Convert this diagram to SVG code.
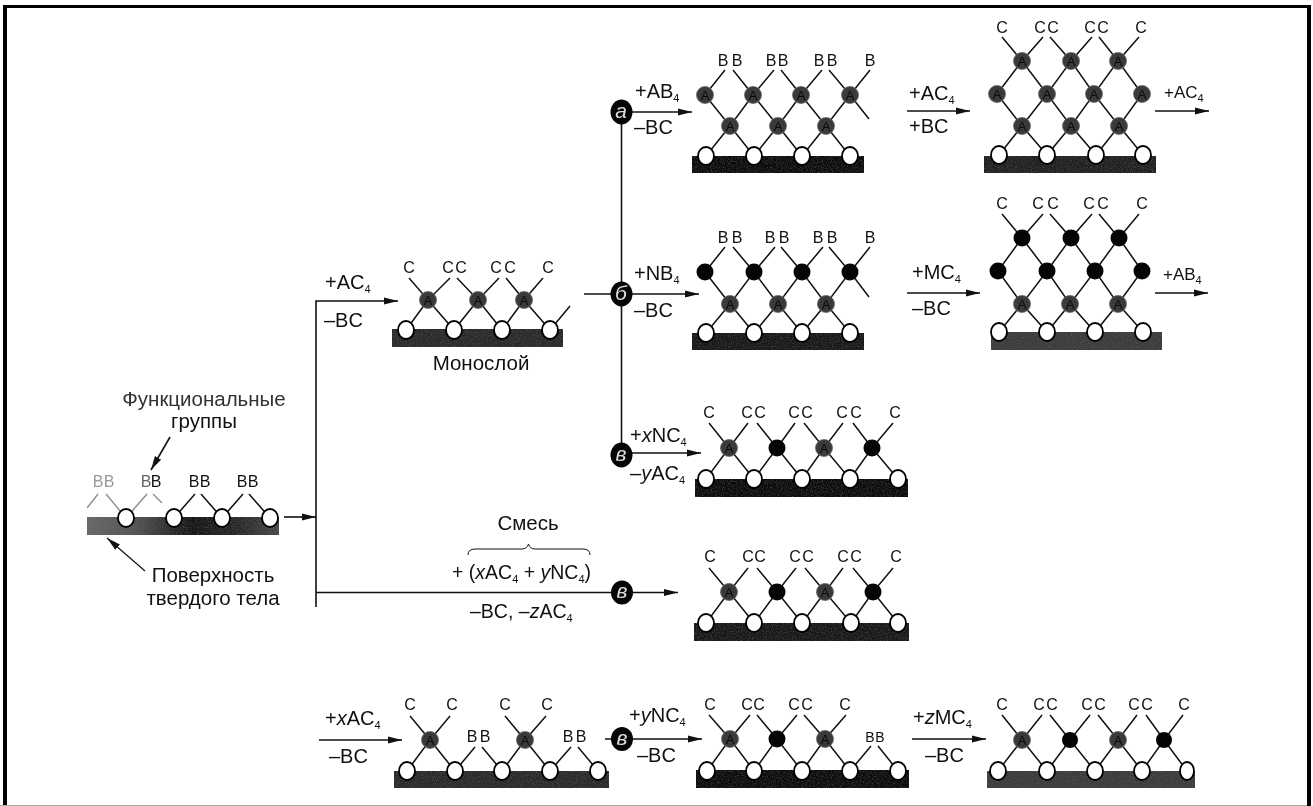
<svg xmlns="http://www.w3.org/2000/svg" width="1313" height="806" viewBox="0 0 1313 806">
<style>
text{font-family:"Liberation Sans",Arial,sans-serif;fill:#111}
.l{font-size:20px}
.r{font-size:20.500px}
.t{font-size:16px;text-anchor:middle}
.s{font-size:11px}
.a{font-size:13px;text-anchor:middle;fill:#0a0a0a}
.b{fill:none;stroke:#111;stroke-width:1.5}
.c{fill:none;stroke:#111;stroke-width:1.6}
.w{fill:#fff;stroke:#000;stroke-width:1.8}
.ga{fill:#3a3a3a;stroke:#666;stroke-width:.8}
.n{fill:#050505}
.k{fill:#050505}
.m{font-size:21px;font-style:italic;text-anchor:middle;fill:#ddd}
.g{filter:url(#grain)}
#drawing{filter:url(#soft)}
</style>
<defs>
<marker id="ah" markerUnits="userSpaceOnUse" markerWidth="16" markerHeight="10" refX="14" refY="4" orient="auto"><path d="M0 0.5L14 4L0 7.500Z" fill="#111"/></marker>
<linearGradient id="sg" x1="0" x2="1" y1="0" y2="0"><stop offset="0" stop-color="#6a6a6a"/><stop offset=".25" stop-color="#555"/><stop offset=".55" stop-color="#141414"/><stop offset=".8" stop-color="#2a2a2a"/><stop offset="1" stop-color="#4a4a4a"/></linearGradient>
<filter id="grain" x="0" y="0" width="100%" height="100%" color-interpolation-filters="sRGB"><feTurbulence type="fractalNoise" baseFrequency=".8" numOctaves="2" seed="3"/><feColorMatrix values="0 0 0 0 .4 0 0 0 0 .4 0 0 0 0 .4 0 0 0 1.500 -.68"/><feComposite in2="SourceAlpha" operator="in" result="n"/><feMerge><feMergeNode in="SourceGraphic"/><feMergeNode in="n"/></feMerge></filter>
<filter id="soft" x="0" y="0" width="100%" height="100%" color-interpolation-filters="sRGB"><feGaussianBlur stdDeviation=".35"/></filter>
</defs>
<rect width="1313" height="806" fill="#fff"/>
<g id="frame">
<rect x="3" y="5" width="4" height="801" fill="#000"/>
<rect x="3" y="5" width="1308" height="3" fill="#000"/>
<rect x="1307" y="5" width="4" height="801" fill="#000"/>
<rect x="0" y="805" width="1307" height="1" fill="#aaa"/>
</g>
<g id="drawing">
<g id="connectors">
<path class="c" d="M284 517H316" marker-end="url(#ah)"/>
<path class="c" d="M316 607V301H398" marker-end="url(#ah)"/>
<path class="c" d="M316 592.500H678" marker-end="url(#ah)"/>
<path class="c" d="M621.500 112V455"/>
<path class="c" d="M584 294H699" marker-end="url(#ah)"/>
<path class="c" d="M621.500 112H692" marker-end="url(#ah)"/>
<path class="c" d="M621.500 453H701" marker-end="url(#ah)"/>
<path class="c" d="M907 111H970" marker-end="url(#ah)"/>
<path class="c" d="M1155 111H1209" marker-end="url(#ah)"/>
<path class="c" d="M907 293H980" marker-end="url(#ah)"/>
<path class="c" d="M1155 293H1208" marker-end="url(#ah)"/>
<path class="c" d="M319 740H402" marker-end="url(#ah)"/>
<path class="c" d="M605 739H702" marker-end="url(#ah)"/>
<path class="c" d="M912 739H986" marker-end="url(#ah)"/>
<path class="c" d="M170 437L151 470" marker-end="url(#ah)"/>
<path class="c" d="M145 571L107 538" marker-end="url(#ah)" style="stroke-width:1.200"/>
<path class="b" d="M468 555Q468 549 475 549H522Q527 549 528.500 544Q530 549 535 549H583Q590 549 590 555" style="stroke-width:1"/>
</g>
<g id="branch-a"><ellipse class="k" cx="621.500" cy="112" rx="11" ry="12.500"/><text class="m" x="621" y="118">а</text></g>
<g id="branch-b"><ellipse class="k" cx="621.500" cy="294" rx="11" ry="12.500"/><text class="m" x="621" y="300">б</text></g>
<g id="branch-v1"><ellipse class="k" cx="621.500" cy="455" rx="11" ry="12.500"/><text class="m" x="621" y="461">в</text></g>
<g id="branch-v2"><ellipse class="k" cx="622" cy="592.500" rx="11" ry="12"/><text class="m" x="622" y="598">в</text></g>
<g id="branch-v3"><ellipse class="k" cx="622" cy="739" rx="11" ry="12"/><text class="m" x="622" y="745">в</text></g>

<g id="labels">
<text class="r" x="204" y="406" text-anchor="middle" style="fill:#333">Функциональные</text>
<text class="r" x="204" y="428" text-anchor="middle">группы</text>
<text class="r" x="213" y="582" text-anchor="middle">Поверхность</text>
<text class="r" x="213" y="605" text-anchor="middle">твердого тела</text>
<text class="r" x="481" y="370" text-anchor="middle">Монослой</text>
<text class="r" x="528" y="530" text-anchor="middle">Смесь</text>
<text class="l" x="325" y="289">+AC<tspan class="s" dy="4">4</tspan></text>
<text class="l" x="324" y="327">–BC</text>
<text class="l" x="635" y="98">+AB<tspan class="s" dy="4">4</tspan></text>
<text class="l" x="634" y="134">–BC</text>
<text class="l" x="634" y="280">+NB<tspan class="s" dy="4">4</tspan></text>
<text class="l" x="634" y="317">–BC</text>
<text class="l" x="630" y="442">+<tspan font-style="italic">x</tspan>NC<tspan class="s" dy="4">4</tspan></text>
<text class="l" x="630" y="480">–<tspan font-style="italic">y</tspan>AC<tspan class="s" dy="4">4</tspan></text>
<text class="l" x="909" y="100">+AC<tspan class="s" dy="4">4</tspan></text>
<text class="l" x="909" y="133">+BC</text>
<text class="l" x="1164" y="98" style="font-size:17px">+AC<tspan class="s" dy="4">4</tspan></text>
<text class="l" x="912" y="279">+MC<tspan class="s" dy="4">4</tspan></text>
<text class="l" x="912" y="315">–BC</text>
<text class="l" x="1163" y="280" style="font-size:17px">+AB<tspan class="s" dy="4">4</tspan></text>
<text class="l" x="452" y="579" style="font-size:19.500px">+ (<tspan font-style="italic">x</tspan>AC<tspan class="s" dy="4">4</tspan><tspan dy="-4"> + </tspan><tspan font-style="italic">y</tspan>NC<tspan class="s" dy="4">4</tspan><tspan dy="-4">)</tspan></text>
<text class="l" x="470" y="618" style="font-size:19.500px">–BC, –<tspan font-style="italic">z</tspan>AC<tspan class="s" dy="4">4</tspan></text>
<text class="l" x="325" y="725">+<tspan font-style="italic">x</tspan>AC<tspan class="s" dy="4">4</tspan></text>
<text class="l" x="329" y="763">–BC</text>
<text class="l" x="629" y="722">+<tspan font-style="italic">y</tspan>NC<tspan class="s" dy="4">4</tspan></text>
<text class="l" x="637" y="762">–BC</text>
<text class="l" x="913" y="724">+<tspan font-style="italic">z</tspan>MC<tspan class="s" dy="4">4</tspan></text>
<text class="l" x="925" y="762">–BC</text>
</g>

<g id="surface">
<rect class="g" x="87" y="517" width="192" height="18" fill="url(#sg)"/>
<path class="b" style="stroke-opacity:.45" d="M87 508L98 494M106 494L126 518L147 494M153 494L162 503"/>
<path class="b" d="M174 518L195 494M201 494L222 518L243 494M249 494L270 518"/>
<ellipse class="w" cx="126" cy="518" rx="8" ry="9"/><ellipse class="w" cx="174" cy="518" rx="8" ry="9"/><ellipse class="w" cx="222" cy="518" rx="8" ry="9"/><ellipse class="w" cx="270" cy="518" rx="8" ry="9"/>
<text class="t" x="98" y="487" style="fill:#999">B</text><text class="t" x="109" y="487" style="fill:#999">B</text><text class="t" x="146" y="487" style="fill:#666">B</text><text class="t" x="156" y="487">B</text><text class="t" x="194" y="487">B</text><text class="t" x="205" y="487">B</text><text class="t" x="242" y="487">B</text><text class="t" x="253" y="487">B</text>
</g>

<g id="monolayer">
<rect class="g" x="392" y="329" width="171" height="18" fill="#2a2a2a"/>
<path class="b" d="M409 278L428 300L450 278M457 278L478 300L499 278M506 278L524 300L543 278M406 330L428 300L454 330L478 300L502 330L524 300L550 330L570 306"/>
<ellipse class="w" cx="406" cy="330" rx="8" ry="9"/><ellipse class="w" cx="454" cy="330" rx="8" ry="9"/><ellipse class="w" cx="502" cy="330" rx="8" ry="9"/><ellipse class="w" cx="550" cy="330" rx="8" ry="9"/>
<circle class="ga" cx="428" cy="300" r="8.500"/><circle class="ga" cx="478" cy="300" r="8.500"/><circle class="ga" cx="524" cy="300" r="8.500"/>
<text class="a" x="428" y="304.500">A</text><text class="a" x="478" y="304.500">A</text><text class="a" x="524" y="304.500">A</text>
<text class="t" x="409" y="273">C</text><text class="t" x="448" y="273">C</text><text class="t" x="461" y="273">C</text><text class="t" x="496" y="273">C</text><text class="t" x="510" y="273">C</text><text class="t" x="548" y="273">C</text>
</g>

<g id="struct-a1">
<rect class="g" x="692" y="156" width="172" height="17" fill="#0c0c0c"/>
<path class="b" d="M705 95L725 70M733 70L753 95L774 70M781 70L801 95L822 70M829 70L850 95L870 70M705 95L730 126L753 95L778 126L801 95L826 126L850 95L869 119M706 156L730 126L754 156L778 126L802 156L826 126L850 156"/>
<ellipse class="w" cx="706" cy="156" rx="8" ry="9"/><ellipse class="w" cx="754" cy="156" rx="8" ry="9"/><ellipse class="w" cx="802" cy="156" rx="8" ry="9"/><ellipse class="w" cx="850" cy="156" rx="8" ry="9"/>
<circle class="ga" cx="730" cy="126" r="8.500"/><circle class="ga" cx="778" cy="126" r="8.500"/><circle class="ga" cx="826" cy="126" r="8.500"/>
<circle class="ga" cx="705" cy="95" r="8.500"/><circle class="ga" cx="753" cy="95" r="8.500"/><circle class="ga" cx="801" cy="95" r="8.500"/><circle class="ga" cx="850" cy="95" r="8.500"/>
<text class="a" x="730" y="130.500">A</text><text class="a" x="778" y="130.500">A</text><text class="a" x="826" y="130.500">A</text>
<text class="a" x="705" y="99.500">A</text><text class="a" x="753" y="99.500">A</text><text class="a" x="801" y="99.500">A</text><text class="a" x="850" y="99.500">A</text>
<text class="t" x="723" y="66">B</text><text class="t" x="737" y="66">B</text><text class="t" x="771" y="66">B</text><text class="t" x="783" y="66">B</text><text class="t" x="819" y="66">B</text><text class="t" x="832" y="66">B</text><text class="t" x="870" y="66">B</text>
</g>

<g id="struct-a2">
<rect class="g" x="984" y="156" width="172" height="17" fill="#202020"/>
<path class="b" d="M1002 37L1022 61L1043 37M1050 37L1071 61L1092 37M1099 37L1118 61L1139 37M997 94L1022 61L1047 94L1071 61L1094 94L1118 61L1142 94M997 94L1022 126L1047 94L1071 126L1094 94L1119 126L1142 94M999 155L1022 126L1047 155L1071 126L1096 155L1119 126L1143 155"/>
<ellipse class="w" cx="999" cy="155" rx="8" ry="9"/><ellipse class="w" cx="1047" cy="155" rx="8" ry="9"/><ellipse class="w" cx="1096" cy="155" rx="8" ry="9"/><ellipse class="w" cx="1143" cy="155" rx="8" ry="9"/>
<circle class="ga" cx="1022" cy="126" r="8.500"/><circle class="ga" cx="1071" cy="126" r="8.500"/><circle class="ga" cx="1119" cy="126" r="8.500"/>
<circle class="ga" cx="997" cy="94" r="8.500"/><circle class="ga" cx="1047" cy="94" r="8.500"/><circle class="ga" cx="1094" cy="94" r="8.500"/><circle class="ga" cx="1142" cy="94" r="8.500"/>
<circle class="ga" cx="1022" cy="61" r="8.500"/><circle class="ga" cx="1071" cy="61" r="8.500"/><circle class="ga" cx="1118" cy="61" r="8.500"/>
<text class="a" x="1022" y="130.500">A</text><text class="a" x="1071" y="130.500">A</text><text class="a" x="1119" y="130.500">A</text>
<text class="a" x="997" y="98.500">A</text><text class="a" x="1047" y="98.500">A</text><text class="a" x="1094" y="98.500">A</text><text class="a" x="1142" y="98.500">A</text>
<text class="a" x="1022" y="65.500">A</text><text class="a" x="1071" y="65.500">A</text><text class="a" x="1118" y="65.500">A</text>
<text class="t" x="1002" y="33">C</text><text class="t" x="1040" y="33">C</text><text class="t" x="1053" y="33">C</text><text class="t" x="1090" y="33">C</text><text class="t" x="1103" y="33">C</text><text class="t" x="1141" y="33">C</text>
</g>

<g id="struct-b1">
<rect class="g" x="692" y="333" width="172" height="17" fill="#181818"/>
<path class="b" d="M705 272L725 247M733 247L754 272L775 247M781 247L802 272L823 247M829 247L850 272L870 247M705 272L730 304L754 272L778 304L802 272L826 304L850 272L869 297M706 333L730 304L754 333L778 304L802 333L826 304L850 333"/>
<ellipse class="w" cx="706" cy="333" rx="8" ry="9"/><ellipse class="w" cx="754" cy="333" rx="8" ry="9"/><ellipse class="w" cx="802" cy="333" rx="8" ry="9"/><ellipse class="w" cx="850" cy="333" rx="8" ry="9"/>
<circle class="ga" cx="730" cy="304" r="8.500"/><circle class="ga" cx="778" cy="304" r="8.500"/><circle class="ga" cx="826" cy="304" r="8.500"/>
<circle class="n" cx="705" cy="272" r="8.500"/><circle class="n" cx="754" cy="272" r="8.500"/><circle class="n" cx="802" cy="272" r="8.500"/><circle class="n" cx="850" cy="272" r="8.500"/>
<text class="a" x="730" y="308.500">A</text><text class="a" x="778" y="308.500">A</text><text class="a" x="826" y="308.500">A</text>
<text class="t" x="723" y="243">B</text><text class="t" x="737" y="243">B</text><text class="t" x="770" y="243">B</text><text class="t" x="784" y="243">B</text><text class="t" x="818" y="243">B</text><text class="t" x="832" y="243">B</text><text class="t" x="870" y="243">B</text>
</g>

<g id="struct-b2">
<rect class="g" x="991" y="332" width="171" height="18" fill="#3c3c3c"/>
<path class="b" d="M1002 214L1022 238L1043 214M1050 214L1071 238L1092 214M1099 214L1119 238L1139 214M998 271L1022 238L1047 271L1071 238L1095 271L1119 238L1142 271M998 271L1022 304L1047 271L1070 304L1095 271L1118 304L1142 271M999 332L1022 304L1047 332L1070 304L1095 332L1118 304L1143 332"/>
<ellipse class="w" cx="999" cy="332" rx="8" ry="9"/><ellipse class="w" cx="1047" cy="332" rx="8" ry="9"/><ellipse class="w" cx="1095" cy="332" rx="8" ry="9"/><ellipse class="w" cx="1143" cy="332" rx="8" ry="9"/>
<circle class="ga" cx="1022" cy="304" r="8.500"/><circle class="ga" cx="1070" cy="304" r="8.500"/><circle class="ga" cx="1118" cy="304" r="8.500"/>
<circle class="n" cx="998" cy="271" r="8.500"/><circle class="n" cx="1047" cy="271" r="8.500"/><circle class="n" cx="1095" cy="271" r="8.500"/><circle class="n" cx="1142" cy="271" r="8.500"/>
<circle class="n" cx="1022" cy="238" r="8.500"/><circle class="n" cx="1071" cy="238" r="8.500"/><circle class="n" cx="1119" cy="238" r="8.500"/>
<text class="a" x="1022" y="308.500">A</text><text class="a" x="1070" y="308.500">A</text><text class="a" x="1118" y="308.500">A</text>
<text class="t" x="1002" y="209">C</text><text class="t" x="1038" y="209">C</text><text class="t" x="1053" y="209">C</text><text class="t" x="1089" y="209">C</text><text class="t" x="1103" y="209">C</text><text class="t" x="1142" y="209">C</text>
</g>

<g id="struct-c1">
<rect class="g" x="695" y="479" width="213" height="18" fill="#0c0c0c"/>
<path class="b" d="M709 423L729 448L748 423M757 423L777 448L795 423M804 423L824 448L843 423M853 423L872 448L893 423M706 479L729 448L754 479L777 448L802 479L824 448L850 479L872 448L898 479"/>
<ellipse class="w" cx="706" cy="479" rx="8" ry="9"/><ellipse class="w" cx="754" cy="479" rx="8" ry="9"/><ellipse class="w" cx="802" cy="479" rx="8" ry="9"/><ellipse class="w" cx="850" cy="479" rx="8" ry="9"/><ellipse class="w" cx="898" cy="479" rx="8" ry="9"/>
<circle class="ga" cx="729" cy="448" r="8.500"/><circle class="n" cx="777" cy="448" r="8.500"/><circle class="ga" cx="824" cy="448" r="8.500"/><circle class="n" cx="872" cy="448" r="8.500"/>
<text class="a" x="729" y="452.500">A</text><text class="a" x="824" y="452.500">A</text>
<text class="t" x="709" y="418">C</text><text class="t" x="747" y="418">C</text><text class="t" x="760" y="418">C</text><text class="t" x="794" y="418">C</text><text class="t" x="807" y="418">C</text><text class="t" x="842" y="418">C</text><text class="t" x="856" y="418">C</text><text class="t" x="895" y="418">C</text>
</g>

<g id="struct-c2">
<rect class="g" x="694" y="623" width="215" height="18" fill="#181818"/>
<path class="b" d="M709 568L729 592L748 568M757 568L777 592L796 568M805 568L825 592L843 568M853 568L873 592L893 568M706 623L729 592L754 623L777 592L802 623L825 592L851 623L873 592L898 623"/>
<ellipse class="w" cx="706" cy="623" rx="8" ry="9"/><ellipse class="w" cx="754" cy="623" rx="8" ry="9"/><ellipse class="w" cx="802" cy="623" rx="8" ry="9"/><ellipse class="w" cx="851" cy="623" rx="8" ry="9"/><ellipse class="w" cx="898" cy="623" rx="8" ry="9"/>
<circle class="ga" cx="729" cy="592" r="8.500"/><circle class="n" cx="777" cy="592" r="8.500"/><circle class="ga" cx="825" cy="592" r="8.500"/><circle class="n" cx="873" cy="592" r="8.500"/>
<text class="a" x="729" y="596.500">A</text><text class="a" x="825" y="596.500">A</text>
<text class="t" x="710" y="562">C</text><text class="t" x="748" y="562">C</text><text class="t" x="760" y="562">C</text><text class="t" x="795" y="562">C</text><text class="t" x="808" y="562">C</text><text class="t" x="843" y="562">C</text><text class="t" x="856" y="562">C</text><text class="t" x="896" y="562">C</text>
</g>

<g id="struct-d1">
<rect class="g" x="394" y="771" width="215" height="17" fill="#2a2a2a"/>
<path class="b" d="M410 716L430 740L450 716M505 716L525 740L546 716M407 771L430 740L455 771L475 747M482 747L502 771L525 740L550 771L571 747M578 747L598 771"/>
<ellipse class="w" cx="407" cy="771" rx="8" ry="9"/><ellipse class="w" cx="455" cy="771" rx="8" ry="9"/><ellipse class="w" cx="502" cy="771" rx="8" ry="9"/><ellipse class="w" cx="550" cy="771" rx="8" ry="9"/><ellipse class="w" cx="598" cy="771" rx="8" ry="9"/>
<circle class="ga" cx="430" cy="740" r="8.500"/><circle class="ga" cx="525" cy="740" r="8.500"/>
<text class="a" x="430" y="744.500">A</text><text class="a" x="525" y="744.500">A</text>
<text class="t" x="410" y="710">C</text><text class="t" x="452" y="710">C</text><text class="t" x="505" y="710">C</text><text class="t" x="547" y="710">C</text>
<text class="t" x="472" y="742">B</text><text class="t" x="485" y="742">B</text><text class="t" x="568" y="742">B</text><text class="t" x="581" y="742">B</text>
</g>

<g id="struct-d2">
<rect class="g" x="696" y="770" width="213" height="18" fill="#0c0c0c"/>
<path class="b" d="M709 715L730 739L750 715M757 715L777 739L797 715M804 715L825 739L846 715M707 771L730 739L754 771L777 739L802 771L825 739L850 771L871 746M878 746L898 771"/>
<ellipse class="w" cx="707" cy="771" rx="8" ry="9"/><ellipse class="w" cx="754" cy="771" rx="8" ry="9"/><ellipse class="w" cx="802" cy="771" rx="8" ry="9"/><ellipse class="w" cx="850" cy="771" rx="8" ry="9"/><ellipse class="w" cx="898" cy="771" rx="8" ry="9"/>
<circle class="ga" cx="730" cy="739" r="8.500"/><circle class="n" cx="777" cy="739" r="8.500"/><circle class="ga" cx="825" cy="739" r="8.500"/>
<text class="a" x="730" y="743.500">A</text><text class="a" x="825" y="743.500">A</text>
<text class="t" x="710" y="710">C</text><text class="t" x="747" y="710">C</text><text class="t" x="759" y="710">C</text><text class="t" x="794" y="710">C</text><text class="t" x="807" y="710">C</text><text class="t" x="845" y="710">C</text>
<text class="t" x="870" y="742" style="font-size:14px">B</text><text class="t" x="880" y="742" style="font-size:14px">B</text>
</g>

<g id="struct-d3">
<rect class="g" x="987" y="771" width="208" height="17" fill="#3c3c3c"/>
<path class="b" d="M1002 715L1022 740L1042 715M1050 715L1070 740L1090 715M1098 715L1118 740L1137 715M1146 715L1164 740L1183 715M998 771L1022 740L1047 771L1070 740L1095 771L1118 740L1142 771L1164 740L1187 771"/>
<ellipse class="w" cx="998" cy="771" rx="8" ry="9"/><ellipse class="w" cx="1047" cy="771" rx="8" ry="9"/><ellipse class="w" cx="1095" cy="771" rx="8" ry="9"/><ellipse class="w" cx="1142" cy="771" rx="8" ry="9"/><ellipse class="w" cx="1187" cy="771" rx="7" ry="9"/>
<circle class="ga" cx="1022" cy="740" r="8.500"/><circle class="n" cx="1070" cy="740" r="8"/><circle class="ga" cx="1118" cy="740" r="8.500"/><circle class="n" cx="1164" cy="740" r="8"/>
<text class="a" x="1022" y="744.500">A</text><text class="a" x="1118" y="744.500">A</text>
<text class="t" x="1002" y="710">C</text><text class="t" x="1039" y="710">C</text><text class="t" x="1052" y="710">C</text><text class="t" x="1087" y="710">C</text><text class="t" x="1100" y="710">C</text><text class="t" x="1134" y="710">C</text><text class="t" x="1147" y="710">C</text><text class="t" x="1184" y="710">C</text>
</g>
</g>
</svg>
